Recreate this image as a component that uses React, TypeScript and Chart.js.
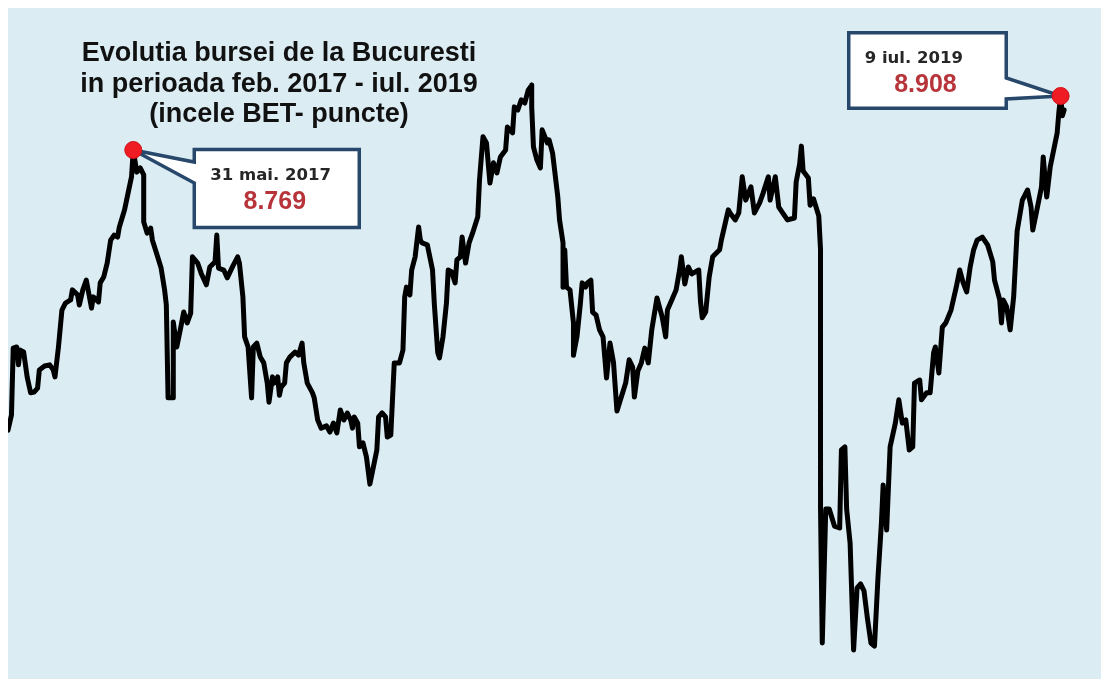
import { useEffect, useRef } from 'react';
import { Chart, registerables } from 'chart.js';

Chart.register(...registerables);

// Trading-session index (from the start of the period) and BET close (points)
const sessions = [
  0, 2, 3, 5, 6, 7, 9, 11, 13, 15, 17, 18, 21, 24, 26, 27, 29, 31, 33, 36,
  37, 40, 41, 43, 45, 48, 49, 52, 53, 55, 57, 59, 61, 63, 64, 67, 69, 71, 72, 74,
  76, 78, 78, 80, 82, 83, 86, 88, 90, 91, 92, 95, 95, 97, 99, 101, 103, 105, 106, 109,
  111, 114, 116, 119, 120, 121, 124, 126, 129, 132, 133, 135, 136, 138, 140, 141, 143, 145, 147, 149,
  150, 152, 153, 155, 156, 157, 159, 160, 162, 165, 167, 169, 170, 172, 175, 176, 178, 180, 183, 185,
  187, 188, 189, 191, 193, 195, 197, 198, 199, 201, 202, 204, 206, 208, 210, 212, 213, 215, 217, 218,
  220, 222, 225, 227, 228, 229, 231, 232, 234, 236, 237, 238, 241, 244, 245, 247, 248, 250, 252, 253,
  255, 257, 258, 260, 261, 263, 265, 267, 270, 271, 273, 275, 277, 279, 281, 283, 286, 287, 290, 291,
  293, 295, 297, 299, 301, 301, 302, 304, 306, 307, 310, 311, 313, 316, 317, 319, 319, 320, 321, 323,
  325, 325, 327, 329, 330, 332, 333, 335, 336, 338, 340, 342, 344, 346, 348, 350, 352, 355, 357, 359,
  360, 362, 364, 366, 368, 370, 373, 376, 378, 379, 382, 384, 386, 387, 389, 391, 393, 397, 398, 399,
  401, 403, 405, 409, 410, 414, 415, 418, 420, 422, 424, 427, 429, 432, 434, 437, 438, 441, 443, 446,
  448, 452, 453, 455, 456, 457, 460, 461, 463, 466, 467, 467, 468, 470, 472, 475, 478, 479, 481, 482,
  484, 486, 488, 490, 492, 494, 496, 498, 500, 502, 503, 505, 507, 510, 512, 514, 516, 518, 520, 521,
  524, 525, 528, 530, 532, 533, 535, 537, 539, 542, 545, 547, 549, 551, 553, 555, 557, 560, 563, 566,
  567, 570, 571, 572, 574, 576, 578, 580, 583, 586, 588, 589, 591, 594, 595, 597, 599, 601, 603, 604,
  605, 606, 607,
];

const betValues = [
  8048, 8087, 8259, 8262, 8216, 8254, 8249, 8185, 8144, 8146, 8156, 8203, 8213, 8216, 8203, 8185, 8262, 8357, 8375, 8383,
  8409, 8396, 8370, 8409, 8434, 8362, 8391, 8378, 8427, 8442, 8478, 8537, 8550, 8545, 8571, 8615, 8658, 8700, 8769, 8712,
  8723, 8705, 8584, 8555, 8568, 8537, 8494, 8465, 8409, 8370, 8131, 8131, 8326, 8262, 8306, 8352, 8324, 8349, 8494, 8478,
  8452, 8422, 8468, 8481, 8550, 8465, 8460, 8440, 8468, 8494, 8478, 8391, 8288, 8262, 8131, 8262, 8272, 8236, 8221, 8169,
  8120, 8185, 8169, 8185, 8138, 8159, 8169, 8221, 8236, 8249, 8241, 8272, 8221, 8169, 8144, 8131, 8074, 8053, 8059, 8043,
  8066, 8053, 8041, 8100, 8074, 8092, 8074, 8053, 8082, 8066, 8005, 8015, 7979, 7909, 7953, 7997, 8082, 8092, 8082, 8030,
  8035, 8221, 8221, 8254, 8391, 8416, 8396, 8460, 8494, 8571, 8537, 8530, 8525, 8460, 8375, 8247, 8234, 8288, 8375, 8460,
  8455, 8427, 8486, 8494, 8545, 8478, 8530, 8555, 8597, 8692, 8803, 8787, 8684, 8736, 8710, 8751, 8769, 8828, 8813, 8880,
  8872, 8898, 8890, 8923, 8936, 8880, 8777, 8743, 8723, 8821, 8787, 8795, 8761, 8648, 8589, 8530, 8416, 8512, 8416, 8409,
  8324, 8241, 8288, 8375, 8427, 8416, 8427, 8434, 8352, 8344, 8306, 8288, 8182, 8272, 8223, 8097, 8126, 8169, 8229, 8210,
  8133, 8200, 8221, 8259, 8221, 8306, 8388, 8339, 8288, 8357, 8388, 8409, 8460, 8494, 8424, 8468, 8450, 8460, 8380, 8337,
  8352, 8442, 8494, 8512, 8537, 8615, 8607, 8589, 8607, 8700, 8640, 8674, 8607, 8633, 8658, 8700, 8640, 8700, 8622, 8602,
  8589, 8594, 8687, 8733, 8779, 8715, 8697, 8627, 8643, 8599, 8512, 7845, 7500, 7845, 7845, 7801, 7796, 7997, 8005, 7845,
  7757, 7482, 7642, 7652, 7634, 7562, 7500, 7492, 7667, 7809, 7907, 7791, 8005, 8066, 8126, 8066, 8074, 7997, 8005, 8169,
  8177, 8126, 8144, 8144, 8247, 8262, 8195, 8313, 8324, 8357, 8416, 8460, 8427, 8404, 8468, 8512, 8537, 8545, 8525, 8481,
  8434, 8383, 8324, 8383, 8365, 8306, 8391, 8560, 8640, 8666, 8622, 8563, 8607, 8674, 8751, 8648, 8725, 8769, 8813, 8867,
  8908, 8857, 8872,
];

const highlightSessions = [72, 605];
const highlightValues = [8769, 8908];
const highlightDates = ['31 mai. 2017', '9 iul. 2019'];

const titleLines = [
  'Evolutia bursei de la Bucuresti',
  'in perioada feb. 2017 - iul. 2019',
  '(incele BET- puncte)',
];

const X_MIN = 0;
const X_MAX = 628.2;
const Y_MIN = 7407.4;
const Y_MAX = 9134.5;

const CANVAS_W = 1093;
const CANVAS_H = 671;

// callout geometry relative to the highlighted point (layout only)
const callouts = [
  { side: 'left', dx: 61, dy: -0.5, w: 165, h: 78, t1: 12.5, t2: 33.5 },
  { side: 'right', dx: -211.9, dy: -63.3, w: 157.5, h: 75.5, t1: 45.3, t2: 66.3 },
];

const fmtPoints = (v: number) => {
  const th = Math.floor(v / 1000);
  const rest = String(v % 1000).padStart(3, '0');
  return th > 0 ? `${th}.${rest}` : rest;
};

const annotationPlugin = {
  id: 'betAnnotations',
  beforeDatasetsDraw(chart: any) {
    const ctx: CanvasRenderingContext2D = chart.ctx;
    const xs = chart.scales.x;
    const ys = chart.scales.y;
    ctx.save();
    // title
    ctx.fillStyle = '#111111';
    ctx.font = 'bold 27px "Liberation Sans", Arial, sans-serif';
    ctx.textAlign = 'center';
    ctx.textBaseline = 'alphabetic';
    titleLines.forEach((t, i) => ctx.fillText(t, 271, 53 + i * 30.5));

    callouts.forEach((c, i) => {
      const ax = xs.getPixelForValue(highlightSessions[i]);
      const ay = ys.getPixelForValue(highlightValues[i]);
      const left = ax + c.dx;
      const top = ay + c.dy;
      const right = left + c.w;
      const bottom = top + c.h;
      ctx.beginPath();
      if (c.side === 'left') {
        ctx.moveTo(left, top);
        ctx.lineTo(right, top);
        ctx.lineTo(right, bottom);
        ctx.lineTo(left, bottom);
        ctx.lineTo(left, top + c.t2);
        ctx.lineTo(ax, ay);
        ctx.lineTo(left, top + c.t1);
        ctx.closePath();
      } else {
        ctx.moveTo(left, top);
        ctx.lineTo(right, top);
        ctx.lineTo(right, top + c.t1);
        ctx.lineTo(ax, ay);
        ctx.lineTo(right, top + c.t2);
        ctx.lineTo(right, bottom);
        ctx.lineTo(left, bottom);
        ctx.closePath();
      }
      ctx.fillStyle = '#ffffff';
      ctx.fill();
      ctx.lineWidth = 3.5;
      ctx.strokeStyle = '#27476b';
      ctx.lineJoin = 'miter';
      ctx.miterLimit = 3;
      ctx.stroke();

      ctx.textAlign = 'left';
      ctx.fillStyle = '#262626';
      ctx.font = 'bold 16.5px "DejaVu Sans", sans-serif';
      ctx.fillText(highlightDates[i], left + 16, top + 30.5);

      ctx.textAlign = 'center';
      ctx.fillStyle = '#b8343b';
      ctx.font = 'bold 25px "Liberation Sans", Arial, sans-serif';
      ctx.fillText(fmtPoints(highlightValues[i]), (left + right) / 2 - 2, top + 59);
    });
    ctx.restore();
  },
};

export default function App() {
  const canvasRef = useRef<HTMLCanvasElement | null>(null);

  useEffect(() => {
    const canvas = canvasRef.current;
    if (!canvas) return;
    const chart = new Chart(canvas, {
      type: 'line',
      data: {
        datasets: [
          {
            type: 'scatter',
            label: 'Puncte',
            data: highlightSessions.map((s, i) => ({ x: s, y: highlightValues[i] })),
            pointRadius: 8.5,
            pointBackgroundColor: '#f01c24',
            pointBorderColor: '#d01018',
            pointBorderWidth: 1,
            showLine: false,
            clip: false,
            order: 0,
          } as any,
          {
            type: 'line',
            label: 'BET',
            data: sessions.map((s, i) => ({ x: s, y: betValues[i] })),
            borderColor: '#000000',
            borderWidth: 5,
            borderJoinStyle: 'round',
            borderCapStyle: 'round',
            pointRadius: 0,
            tension: 0,
            fill: false,
            order: 1,
          } as any,
        ],
      },
      options: {
        animation: false,
        responsive: false,
        maintainAspectRatio: false,
        events: [],
        layout: { padding: 0, autoPadding: false },
        plugins: {
          legend: { display: false },
          tooltip: { enabled: false },
          title: { display: false },
        },
        scales: {
          x: { type: 'linear', min: X_MIN, max: X_MAX, display: false },
          y: { type: 'linear', min: Y_MIN, max: Y_MAX, display: false },
        },
      },
      plugins: [annotationPlugin],
    });
    return () => chart.destroy();
  }, []);

  return (
    <div
      style={{
        position: 'fixed',
        left: 8,
        top: 8,
        width: CANVAS_W,
        height: CANVAS_H,
        background: '#dbecf3',
      }}
    >
      <canvas ref={canvasRef} width={CANVAS_W} height={CANVAS_H} style={{ display: 'block' }} />
    </div>
  );
}
